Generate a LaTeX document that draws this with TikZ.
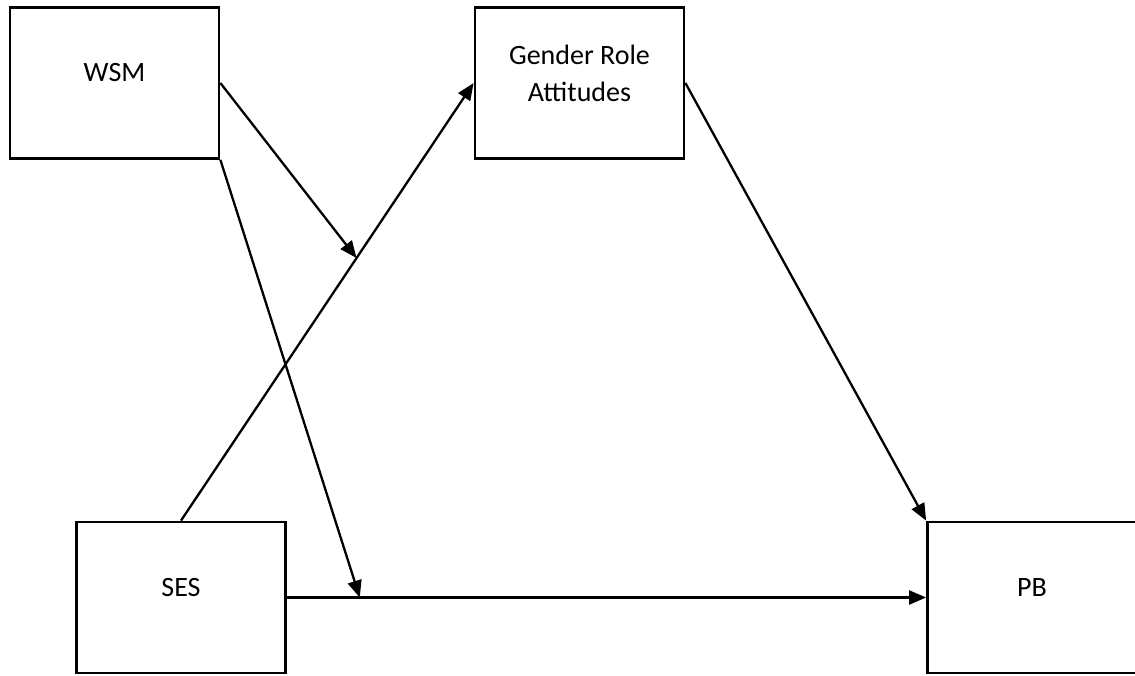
\documentclass[tikz,border=0pt]{standalone}
\usepackage{fontspec}
\setmainfont{Carlito}
\usetikzlibrary{arrows.meta,calc}
\begin{document}
\begin{tikzpicture}[x=1pt,y=-1pt,
  box/.style={draw,line width=2.8pt,rectangle,minimum width=209pt,minimum height=151pt,inner sep=0pt},
  lbl/.style={font=\fontsize{28}{37}\selectfont,align=center,yshift=10pt},
  conn/.style={line width=2.3pt,-{Triangle[length=17pt,width=14pt]}}]
\useasboundingbox (0,0) rectangle (1135,675);
\clip (0,0) rectangle (1135,675);
\fill[white] (0,0) rectangle (1135,675);
\node[box,label={[lbl]center:WSM}] (WSM) at (114.5,83) {};
\node[box,label={[lbl]center:Gender Role\\Attitudes}] (GRA) at (579.5,83) {};
\node[box,label={[lbl]center:SES}] (SES) at (181,597.5) {};
\node[box,label={[lbl]center:PB}] (PB) at (1032,597.5) {};
\coordinate (m1) at ($(SES.north)!0.6!(GRA.west)$);
\coordinate (m2) at ($(SES.east)!0.114!(PB.west)$);
\draw[conn] (SES.north) -- (GRA.west);
\draw[conn] (SES.east) -- (PB.west);
\draw[conn] (GRA.east) -- (PB.north west);
\draw[conn] (WSM.east) -- (m1);
\draw[conn] (WSM.south east) -- (m2);
\end{tikzpicture}
\end{document}
